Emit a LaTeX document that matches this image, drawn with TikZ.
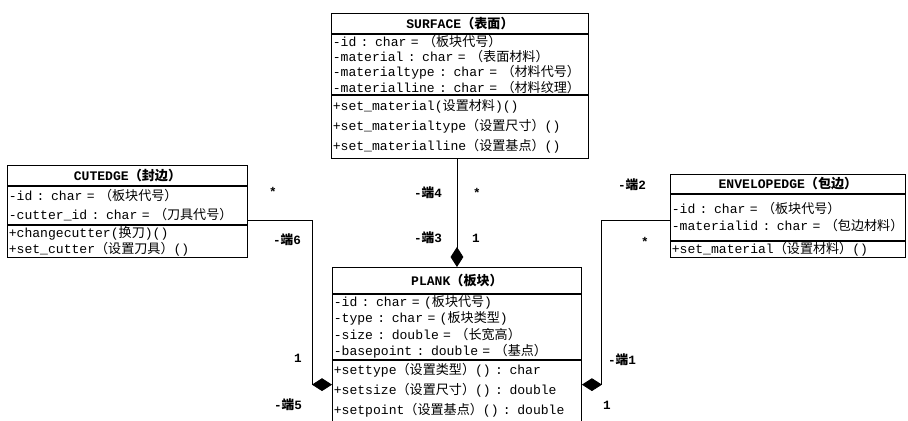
\documentclass[tikz,border=0pt]{standalone}
\usepackage{fontspec}
\setmainfont{Liberation Mono}
\newfontfamily\cjk{Noto Sans CJK SC}
\newcommand{\zh}[1]{{\cjk #1}}
\usetikzlibrary{arrows.meta,positioning,calc}
\tikzset{
  clshead/.style={draw=black, line width=0.6pt, align=center, inner xsep=1pt, inner ysep=0pt, font=\bfseries\fontsize{9.3}{10}\selectfont},
  clsrows/.style={draw=black, line width=0.6pt, align=left, inner xsep=1pt, inner ysep=0pt, font=\fontsize{9.3}{#1}\selectfont},
  comp/.style={-{Diamond[length=5mm,width=3.2mm]}, line width=0.6pt},
  mult/.style={font=\bfseries\fontsize{9}{10}\selectfont, inner sep=1pt}
}

\begin{document}
\begin{tikzpicture}[x=0.025cm, y=0.025cm]
\useasboundingbox (0,0) rectangle (908,421);
% ---- SURFACE ----
\node[clshead, text width=6.355cm, minimum height=0.5cm, anchor=north west] (surfT) at (331,408) {SURFACE\zh{（表面）}};
\node[clsrows=10.9pt, text width=6.355cm, minimum height=1.5cm, below=0pt of surfT] (surfA) {-id : char = \zh{（板块代号）}\\-material : char = \zh{（表面材料）}\\-materialtype : char = \zh{（材料代号）}\\-materialline : char = \zh{（材料纹理）}};
\node[clsrows=14.2pt, text width=6.355cm, minimum height=1.575cm, below=0pt of surfA] (surfO) {+set\_material(\zh{设置材料})()\\+set\_materialtype\zh{（设置尺寸）}()\\+set\_materialline\zh{（设置基点）}()};
% ---- CUTEDGE ----
\node[clshead, text width=5.93cm, minimum height=0.5cm, anchor=north west] (cutT) at (7,256) {CUTEDGE\zh{（封边）}};
\node[clsrows=13.5pt, text width=5.93cm, minimum height=0.95cm, below=0pt of cutT] (cutA) {-id : char = \zh{（板块代号）}\\-cutter\_id : char = \zh{（刀具代号）}};
\node[clsrows=11.6pt, text width=5.93cm, minimum height=0.8cm, below=0pt of cutA] (cutO) {+changecutter(\zh{换刀})()\\+set\_cutter\zh{（设置刀具）}()};
% ---- ENVELOPEDGE ----
\node[clshead, text width=5.805cm, minimum height=0.475cm, anchor=north west] (envT) at (670,247) {ENVELOPEDGE\zh{（包边）}};
\node[clsrows=12.2pt, text width=5.805cm, minimum height=1.15cm, below=0pt of envT] (envA) {-id : char = \zh{（板块代号）}\\-materialid : char = \zh{（包边材料）}};
\node[clsrows=11pt, text width=5.805cm, minimum height=0.4cm, below=0pt of envA] (envO) {+set\_material\zh{（设置材料）}()};
% ---- PLANK ----
\node[clshead, text width=6.155cm, minimum height=0.65cm, anchor=north west] (plankT) at (332,154) {PLANK\zh{（板块）}};
\node[clsrows=11.6pt, text width=6.155cm, minimum height=1.625cm, below=0pt of plankT] (plankA) {-id : char = (\zh{板块代号})\\-type : char = (\zh{板块类型})\\-size : double = \zh{（长宽高）}\\-basepoint : double = \zh{（基点）}};
\node[clsrows=14.2pt, text width=6.155cm, minimum height=1.525cm, below=0pt of plankA] (plankO) {+settype\zh{（设置类型）}() : char\\+setsize\zh{（设置尺寸）}() : double\\+setpoint\zh{（设置基点）}() : double};
% ---- links ----
\draw[comp] (surfO.south -| plankT.north) -- (plankT.north);
\draw[comp] ($(cutA.east)+(0,-15)$) -| ($(plankO.west)+(-20,6)$) -- ($(plankO.west)+(0,6)$);
\draw[comp] ($(envA.west)+(0,-3)$) -| ($(plankO.east)+(19,6)$) -- ($(plankO.east)+(0,6)$);
% ---- ends ----
\node[mult] (m6a) at (273,229) {*};
\node[mult] (m6b) at (287,181) {-\zh{端}6};
\node[mult] (m5a) at (298,63) {1};
\node[mult] (m5b) at (288,16) {-\zh{端}5};
\node[mult] (m4a) at (428,228) {-\zh{端}4};
\node[mult] (m4b) at (477,228) {*};
\node[mult] (m3a) at (428,183) {-\zh{端}3};
\node[mult] (m3b) at (476,183) {1};
\node[mult] (m2a) at (632,236) {-\zh{端}2};
\node[mult] (m2b) at (645,179) {*};
\node[mult] (m1a) at (622,61) {-\zh{端}1};
\node[mult] (m1b) at (607,16) {1};
\end{tikzpicture}
\end{document}
